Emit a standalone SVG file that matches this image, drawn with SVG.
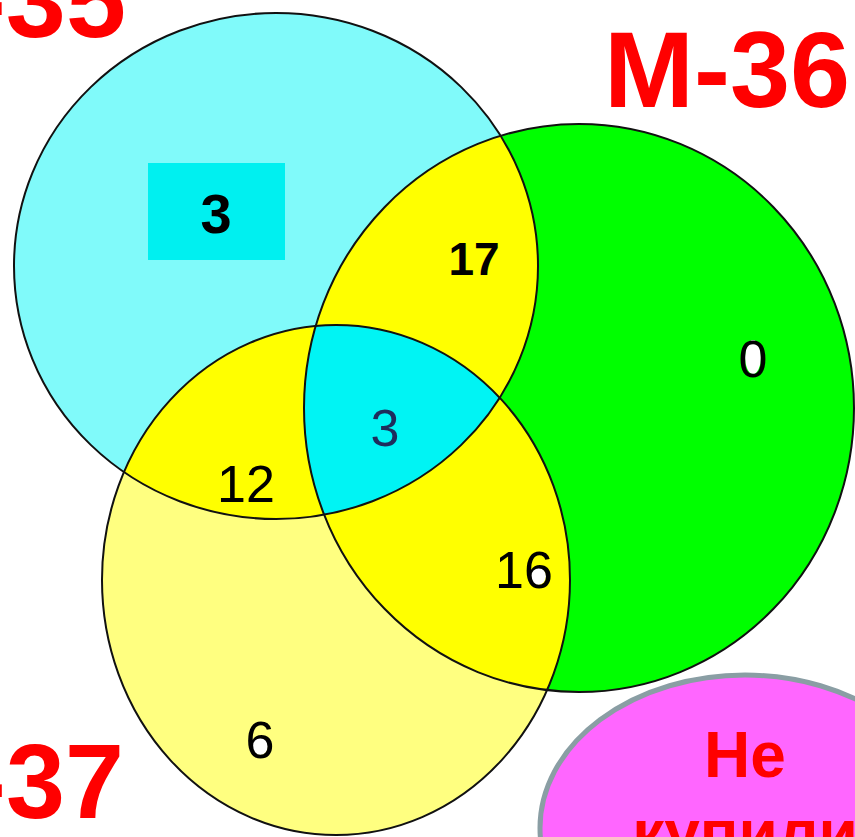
<svg xmlns="http://www.w3.org/2000/svg" xmlns:xlink="http://www.w3.org/1999/xlink" width="855" height="837" viewBox="0 0 855 837">
<style>
.title{font-family:"Liberation Sans",Arial,sans-serif;font-weight:bold;fill:#FF0000;}
.num{font-family:"Liberation Sans",Arial,sans-serif;font-size:52px;fill:#000;text-anchor:middle;}
.bnum{font-family:"Liberation Sans",Arial,sans-serif;font-weight:bold;fill:#000;text-anchor:middle;}
.outline{fill:none;stroke:#111;stroke-width:2;}
</style>
<defs>
<ellipse id="eA" cx="276" cy="266" rx="262" ry="253"/>
<ellipse id="eB" cx="579" cy="408" rx="275" ry="284"/>
<ellipse id="eC" cx="336" cy="580" rx="234" ry="255"/>
<clipPath id="cA"><use xlink:href="#eA"/></clipPath>
<clipPath id="cB"><use xlink:href="#eB"/></clipPath>
</defs>
<rect width="855" height="837" fill="#FFFFFF"/>
<g id="fills">
<use xlink:href="#eC" fill="#FFFF80"/>
<use xlink:href="#eB" fill="#00FF00"/>
<use xlink:href="#eA" fill="#80FAFA"/>
<use xlink:href="#eB" fill="#FFFF00" clip-path="url(#cA)"/>
<use xlink:href="#eC" fill="#FFFF00" clip-path="url(#cA)"/>
<use xlink:href="#eC" fill="#FFFF00" clip-path="url(#cB)"/>
<g clip-path="url(#cA)"><use xlink:href="#eC" fill="#00F4F4" clip-path="url(#cB)"/></g>
</g>
<g id="circles">
<use xlink:href="#eA" class="outline"/>
<use xlink:href="#eB" class="outline"/>
<use xlink:href="#eC" class="outline"/>
</g>
<g id="label-m35"><text class="title" x="126" y="37" font-size="108" text-anchor="end">М-35</text></g>
<g id="label-m36"><text class="title" x="604" y="107" font-size="108">М-36</text></g>
<g id="label-m37"><text class="title" x="124" y="818" font-size="106" text-anchor="end">М-37</text></g>
<g id="box-3">
<rect x="148" y="163" width="137" height="97" fill="#00F0F0"/>
<text class="bnum" x="216" y="233" font-size="56">3</text>
</g>
<g id="n17"><text class="bnum" x="474" y="275" font-size="46">17</text></g>
<g id="n0">
<ellipse cx="753" cy="357" rx="8" ry="17" fill="#FFFFFF"/>
<text class="num" x="753" y="377">0</text>
</g>
<g id="n3"><text class="num" x="385" y="446" fill="#1E2D5C" style="fill:#1E2D5C">3</text></g>
<g id="n12"><text class="num" x="246" y="502">12</text></g>
<g id="n16">
<ellipse cx="538" cy="576" rx="8" ry="9" fill="#FFFFFF"/>
<text class="num" x="524" y="588">16</text>
</g>
<g id="n6">
<ellipse cx="260" cy="746" rx="8" ry="9" fill="#FFFFFF"/>
<text class="num" x="260" y="758">6</text>
</g>
<g id="none">
<ellipse cx="745" cy="828" rx="205" ry="153" fill="#FF66FF" stroke="#8A9EA4" stroke-width="5"/>
<text class="title" x="745" y="777" font-size="64" text-anchor="middle">Не</text>
<text class="title" x="745" y="855" font-size="64" text-anchor="middle">купили</text>
</g>
</svg>
